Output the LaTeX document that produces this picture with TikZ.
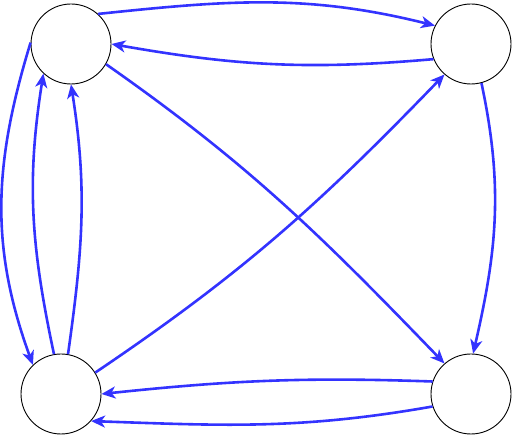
\documentclass[tikz,border=0pt]{standalone}
\usetikzlibrary{arrows.meta}
\definecolor{edgeblue}{HTML}{3333FF}
\begin{document}
\begin{tikzpicture}[x=1pt,y=1pt,
  vertex/.style={draw,circle,line width=0.9pt,minimum size=80pt,inner sep=0pt},
  link/.style={draw=edgeblue,line width=2.6pt,-{Stealth[length=14pt,width=12pt,inset=4pt]}}]
  \useasboundingbox (0,0) rectangle (512,435);
  \node[vertex] (tl) at (71,391) {};
  \node[vertex] (tr) at (471,391) {};
  \node[vertex] (bl) at (61,41) {};
  \node[vertex] (br) at (471,41) {};
  \draw[link] (tl.48) to[out=6,in=166] (tr.153);
  \draw[link] (tr.202) to[out=185,in=-10] (tl.0);
  \draw[link] (tr.-75) to[out=-78,in=77] (br.87);
  \draw[link] (br.162) to[out=178,in=6] (bl.0);
  \draw[link] (br.198) to[out=190,in=-2] (bl.-42);
  \draw[link] (bl.32) to[out=34,in=226] (tr.229);
  \draw[link] (tl.-30) to[out=-35,in=134] (br.131);
  \draw[link] (tl.178) to[out=253,in=110] (bl.134);
  \draw[link] (bl.100) to[out=102,in=261] (tl.227);
  \draw[link] (bl.80) to[out=82,in=279] (tl.270);
\end{tikzpicture}
\end{document}
